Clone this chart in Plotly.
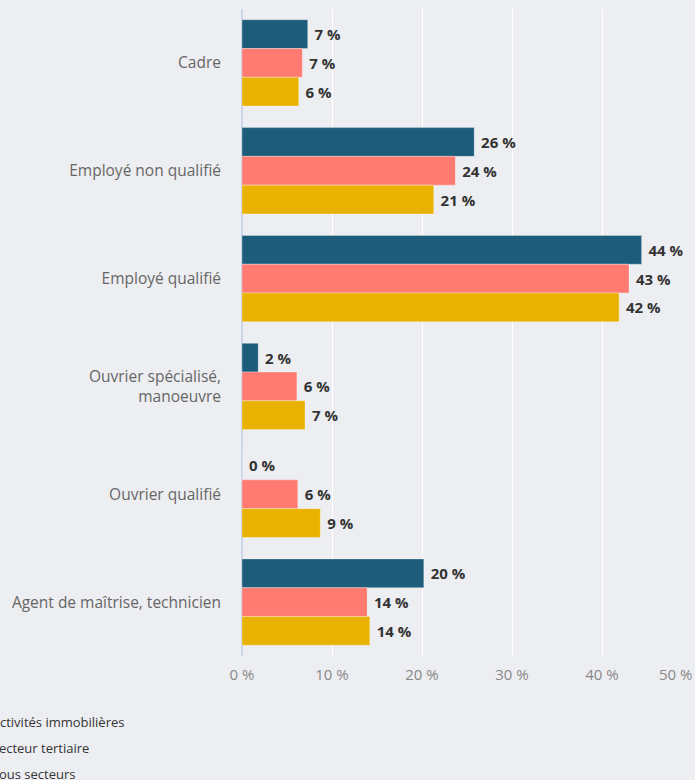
import plotly.graph_objects as go

categories = ["Cadre", "Employé non qualifié", "Employé qualifié",
              "Ouvrier spécialisé,<br>manoeuvre", "Ouvrier qualifié",
              "Agent de maîtrise, technicien"]
series_names = ["Activités immobilières", "Secteur tertiaire", "Tous secteurs"]
immobilier = [7.3, 25.8, 44.4, 1.8, 0.0, 20.2]
tertiaire = [6.7, 23.7, 43.0, 6.1, 6.2, 13.9]
tous = [6.3, 21.3, 41.9, 7.0, 8.7, 14.2]
colors = ["#1d5c7b", "#ff7b72", "#e9b200"]
tick_vals = [0, 10, 20, 30, 40, 50]

fig = go.Figure()
for i, (name, vals) in enumerate(zip(series_names, [immobilier, tertiaire, tous])):
    fig.add_trace(go.Bar(
        y=categories, x=vals, name=name, orientation="h",
        marker=dict(color=colors[i], line=dict(width=0.6, color="rgba(255,255,255,0.5)")),
        text=[f" {round(v)} %" for v in vals],
        textposition="outside", cliponaxis=False,
        textfont=dict(family="Open Sans", size=15, color="#333333", weight="bold"),
        legendgroup=f"g{i}",
    ))

# last tick label is shifted inside the chart, as in the reference
tick_text = [f"{v} %" for v in tick_vals]
tick_text[-1] = ""

fig.update_layout(
    width=695, height=780,
    barmode="group", bargap=0.2, bargroupgap=0,
    paper_bgcolor="#edeef1", plot_bgcolor="#edeef1",
    margin=dict(l=242, r=3, t=9, b=124, autoexpand=False),
    font=dict(family="Open Sans", color="#333333"),
    showlegend=True,
    legend=dict(x=-0.645, xanchor="left", y=-0.079, yanchor="top",
                orientation="v", tracegroupgap=6,
                font=dict(family="Open Sans", size=13, color="#333333"),
                bgcolor="rgba(0,0,0,0)"),
    annotations=[dict(x=tick_vals[-1], xref="x", y=0, yref="paper",
                      text=f"{tick_vals[-1]} %", showarrow=False,
                      xanchor="right", yanchor="top", yshift=-6, xshift=2,
                      font=dict(family="Open Sans", size=15, color="#888888"))],
)
fig.update_xaxes(range=[0, 50], tickvals=tick_vals, ticktext=tick_text,
                 showgrid=True, gridcolor="#ffffff", gridwidth=1,
                 zeroline=True, zerolinecolor="#ccd6eb", zerolinewidth=2,
                 tickfont=dict(family="Open Sans", size=15, color="#888888"),
                 ticklabelstandoff=8, showline=False, fixedrange=True)
fig.update_yaxes(autorange="reversed", showgrid=False,
                 tickfont=dict(family="Open Sans", size=15.5, color="#666666"),
                 ticklabelstandoff=20, showline=False, fixedrange=True)

fig.write_html("out.html", config={"displayModeBar": False},
               post_script="document.body.style.margin='0';")
